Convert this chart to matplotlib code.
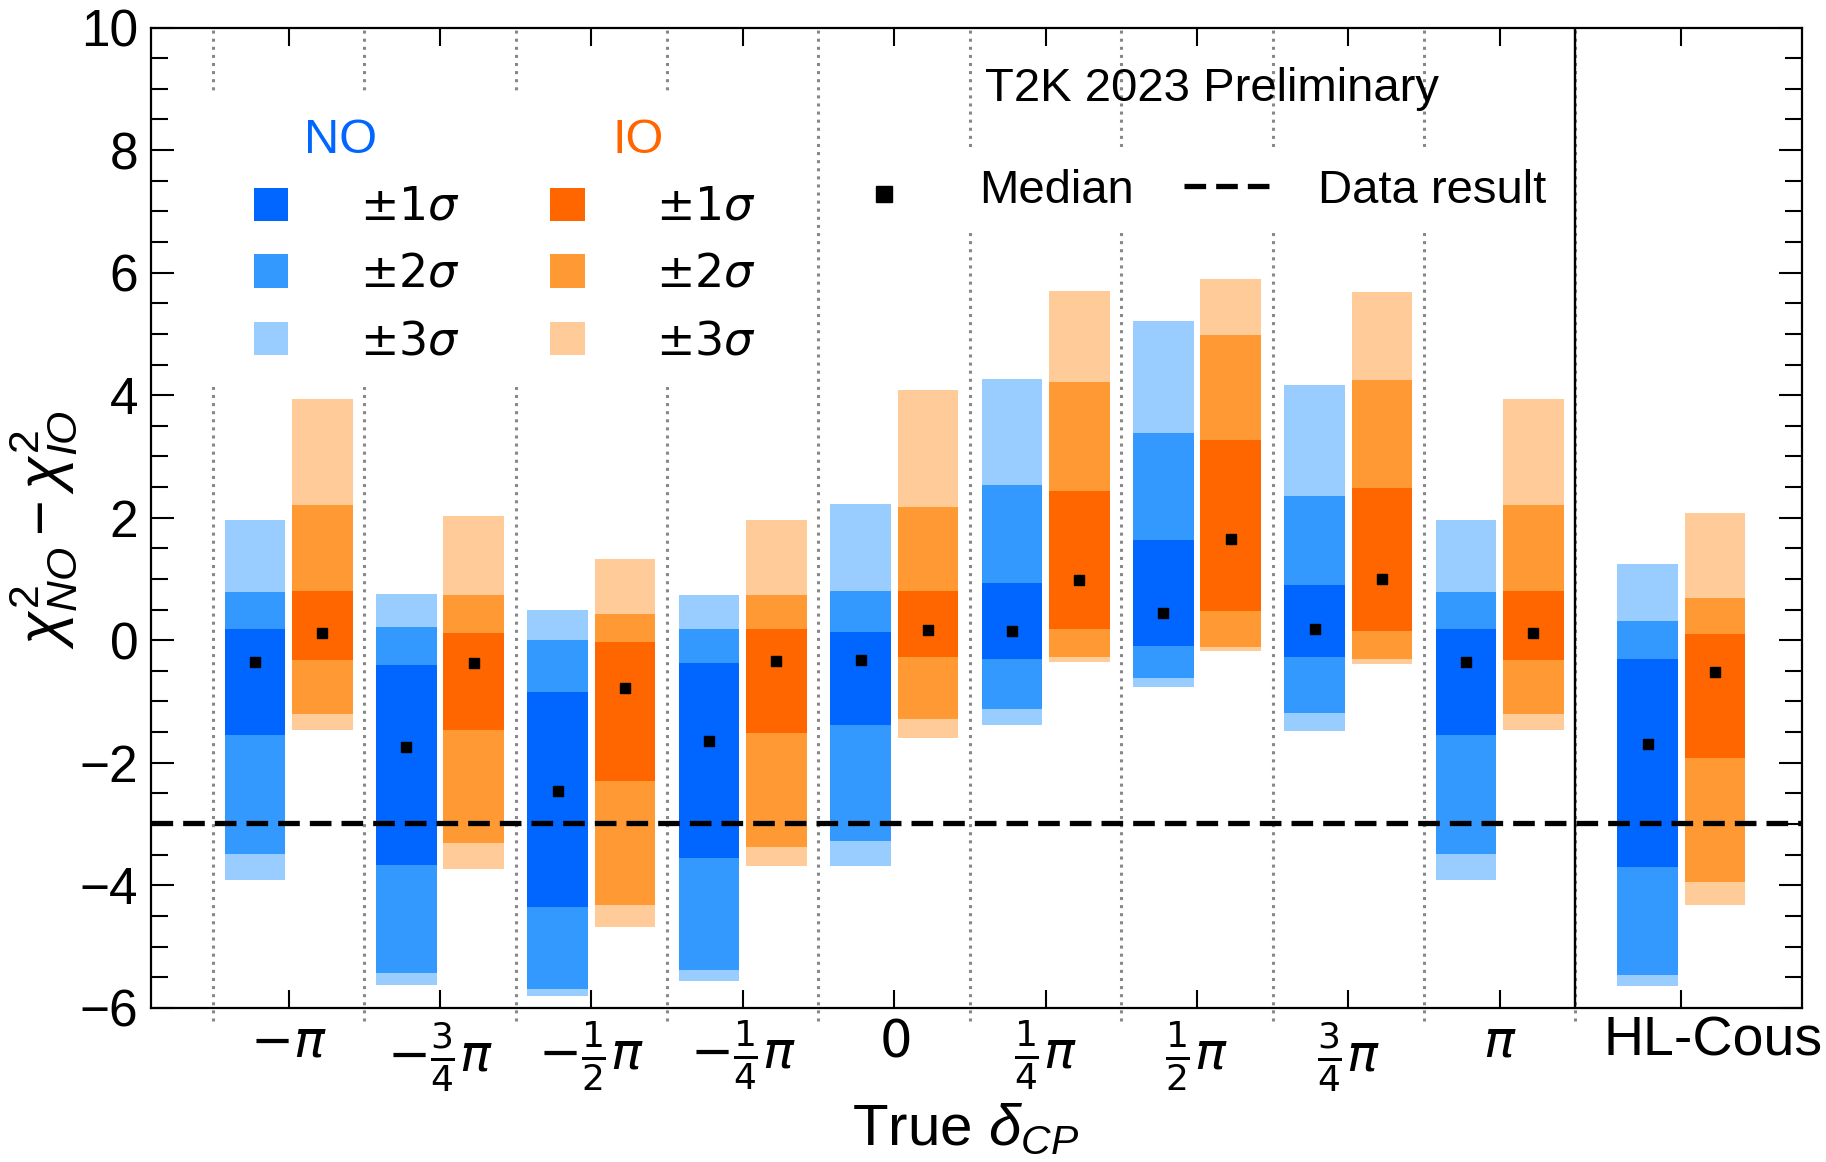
import matplotlib
matplotlib.use('Agg')
import matplotlib.pyplot as plt
import matplotlib.transforms as mtransforms
from matplotlib.patches import Rectangle
from matplotlib.ticker import MultipleLocator
import numpy as np

plt.rcParams['font.family'] = 'Liberation Sans'
plt.rcParams['mathtext.fontset'] = 'dejavusans'
plt.rcParams['mathtext.rm'] = 'Liberation Sans'
plt.rcParams['mathtext.it'] = 'Liberation Sans:italic'
plt.rcParams['mathtext.bf'] = 'Liberation Sans:bold'

# true delta_CP points + HL-Cousins
labels = [r'$-\pi$', r'$-\frac{3}{4}\pi$', r'$-\frac{1}{2}\pi$', r'$-\frac{1}{4}\pi$',
          r'$0$', r'$\frac{1}{4}\pi$', r'$\frac{1}{2}\pi$', r'$\frac{3}{4}\pi$',
          r'$\pi$', 'HL-Cous']
xpos = np.array([0, 1, 2, 3, 4, 5, 6, 7, 8, 9.2])

# normal ordering toys
no_hi3 = np.array([1.97, 0.76, 0.50, 0.74, 2.22, 4.26, 5.21, 4.16, 1.97, 1.24])
no_hi2 = np.array([0.79, 0.21, 0.01, 0.175, 0.81, 2.53, 3.375, 2.35, 0.79, 0.32])
no_hi1 = np.array([0.175, -0.41, -0.85, -0.38, 0.13, 0.94, 1.63, 0.90, 0.175, -0.31])
no_med = np.array([-0.35, -1.75, -2.46, -1.64, -0.325, 0.156, 0.45, 0.175, -0.35, -1.70])
no_lo1 = np.array([-1.55, -3.67, -4.35, -3.55, -1.39, -0.30, -0.09, -0.28, -1.55, -3.70])
no_lo2 = np.array([-3.49, -5.43, -5.69, -5.375, -3.28, -1.13, -0.625, -1.19, -3.49, -5.46])
no_lo3 = np.array([-3.91, -5.63, -5.81, -5.57, -3.68, -1.39, -0.76, -1.48, -3.91, -5.65])

# inverted ordering toys
io_hi3 = np.array([3.93, 2.03, 1.32, 1.96, 4.08, 5.70, 5.89, 5.68, 3.93, 2.07])
io_hi2 = np.array([2.20, 0.74, 0.43, 0.74, 2.17, 4.21, 4.98, 4.24, 2.20, 0.69])
io_hi1 = np.array([0.81, 0.125, -0.025, 0.175, 0.81, 2.43, 3.26, 2.48, 0.81, 0.106])
io_med = np.array([0.12, -0.37, -0.775, -0.34, 0.16, 0.99, 1.66, 1.00, 0.12, -0.525])
io_lo1 = np.array([-0.33, -1.47, -2.29, -1.51, -0.28, 0.19, 0.48, 0.156, -0.33, -1.925])
io_lo2 = np.array([-1.21, -3.31, -4.32, -3.37, -1.29, -0.28, -0.11, -0.30, -1.21, -3.94])
io_lo3 = np.array([-1.46, -3.73, -4.675, -3.69, -1.59, -0.36, -0.17, -0.39, -1.46, -4.33])

data_result = -2.98

no_cols = ['#0066ff', '#3399ff', '#99ccff']   # 1, 2, 3 sigma
io_cols = ['#ff6600', '#ff9933', '#ffcc99']

fig = plt.figure(figsize=(18.26, 11.62), dpi=100)
ax = fig.add_axes([0.0829, 0.1327, 0.9042, 0.8436])

off = 0.2225
w = 0.40
for lo, hi, c in [(no_lo3, no_hi3, no_cols[2]), (no_lo2, no_hi2, no_cols[1]), (no_lo1, no_hi1, no_cols[0])]:
    ax.bar(xpos - off, hi - lo, width=w, bottom=lo, color=c, linewidth=0, zorder=2)
for lo, hi, c in [(io_lo3, io_hi3, io_cols[2]), (io_lo2, io_hi2, io_cols[1]), (io_lo1, io_hi1, io_cols[0])]:
    ax.bar(xpos + off, hi - lo, width=w, bottom=lo, color=c, linewidth=0, zorder=2)

ax.plot(xpos - off, no_med, 's', color='black', ms=6.7, ls='none', zorder=5)
ax.plot(xpos + off, io_med, 's', color='black', ms=6.7, ls='none', zorder=5)

# separators
for xb in np.arange(-0.5, 9.0, 1.0):
    ax.plot([xb, xb], [-6.22, 10], ls=':', color='#888888', lw=2.2, clip_on=False, zorder=1)
ax.axvline(8.5, color='black', lw=1.7, zorder=4)
ax.axhline(data_result, color='black', lw=3.8, ls=(0, (4.1, 1.9)), zorder=4)

# legend backgrounds
ax.add_patch(Rectangle((-0.65, 4.14), 3.95, 4.76, fc='white', ec='none', zorder=1.5))
ax.add_patch(Rectangle((3.6, 6.67), 4.3, 1.38, fc='white', ec='none', zorder=1.5))

# NO / IO legend
ax.text(0.341, 7.95, 'NO', color=no_cols[0], fontsize=35, ha='center', va='baseline')
ax.text(2.306, 7.95, 'IO', color=io_cols[0], fontsize=35, ha='center', va='baseline')
rows = [7.115, 6.025, 4.92]
for k, yc in enumerate(rows):
    ax.add_patch(Rectangle((-0.2285, yc - 0.272), 0.225, 0.544, fc=no_cols[k], ec='none', zorder=3))
    ax.add_patch(Rectangle((1.729, yc - 0.272), 0.229, 0.544, fc=io_cols[k], ec='none', zorder=3))
    lab = r'$\pm%d\sigma$' % (k + 1)
    ax.text(0.471, yc - 0.255, lab, fontsize=33, ha='left', va='baseline', zorder=3)
    ax.text(2.427, yc - 0.255, lab, fontsize=33, ha='left', va='baseline', zorder=3)

# median / data legend
ax.plot([3.932], [7.29], 's', color='black', ms=11.5, zorder=3)
ax.text(4.564, 7.14, 'Median', fontsize=34, ha='left', va='baseline', zorder=3)
ax.plot([5.917, 6.534], [7.42, 7.42], color='black', lw=3.8, ls=(0, (4.1, 1.9)), zorder=3)
ax.text(6.80, 7.14, 'Data result', fontsize=34, ha='left', va='baseline', zorder=3)

ax.text(4.603, 8.795, 'T2K 2023 Preliminary', fontsize=34, ha='left', va='baseline', zorder=3)

ax.set_xlim(-0.907, 10.0)
ax.set_ylim(-6, 10)
ax.set_xticks(xpos, labels)
ax.set_yticks(np.arange(-6, 11, 2))
ax.yaxis.set_minor_locator(MultipleLocator(0.5))
ax.tick_params(axis='x', which='major', direction='in', length=12.7, width=1.5,
               top=True, labelsize=37, pad=8)
ax.tick_params(axis='y', which='major', direction='in', length=16.8, width=1.5,
               right=True, labelsize=37, pad=9.4)
ax.tick_params(axis='y', which='minor', direction='in', length=12.2, width=1.5, right=True)
for s in ax.spines.values():
    s.set_linewidth(1.6)

hl = ax.get_xticklabels()[-1]
hl.set_fontsize(40)
hl.set_transform(hl.get_transform() + mtransforms.ScaledTranslation(0.32, 0.03, fig.dpi_scale_trans))

ax.set_ylabel(r'$\chi^{2}_{NO} - \chi^{2}_{IO}$', fontsize=44, math_fontfamily='custom')
ax.yaxis.set_label_coords(-0.044, 0.4875)
ax.set_xlabel(r'True $\delta_{CP}$', fontsize=42, math_fontfamily='custom')
ax.xaxis.set_label_coords(0.493, -0.097)

fig.savefig('out.png', dpi=100)
